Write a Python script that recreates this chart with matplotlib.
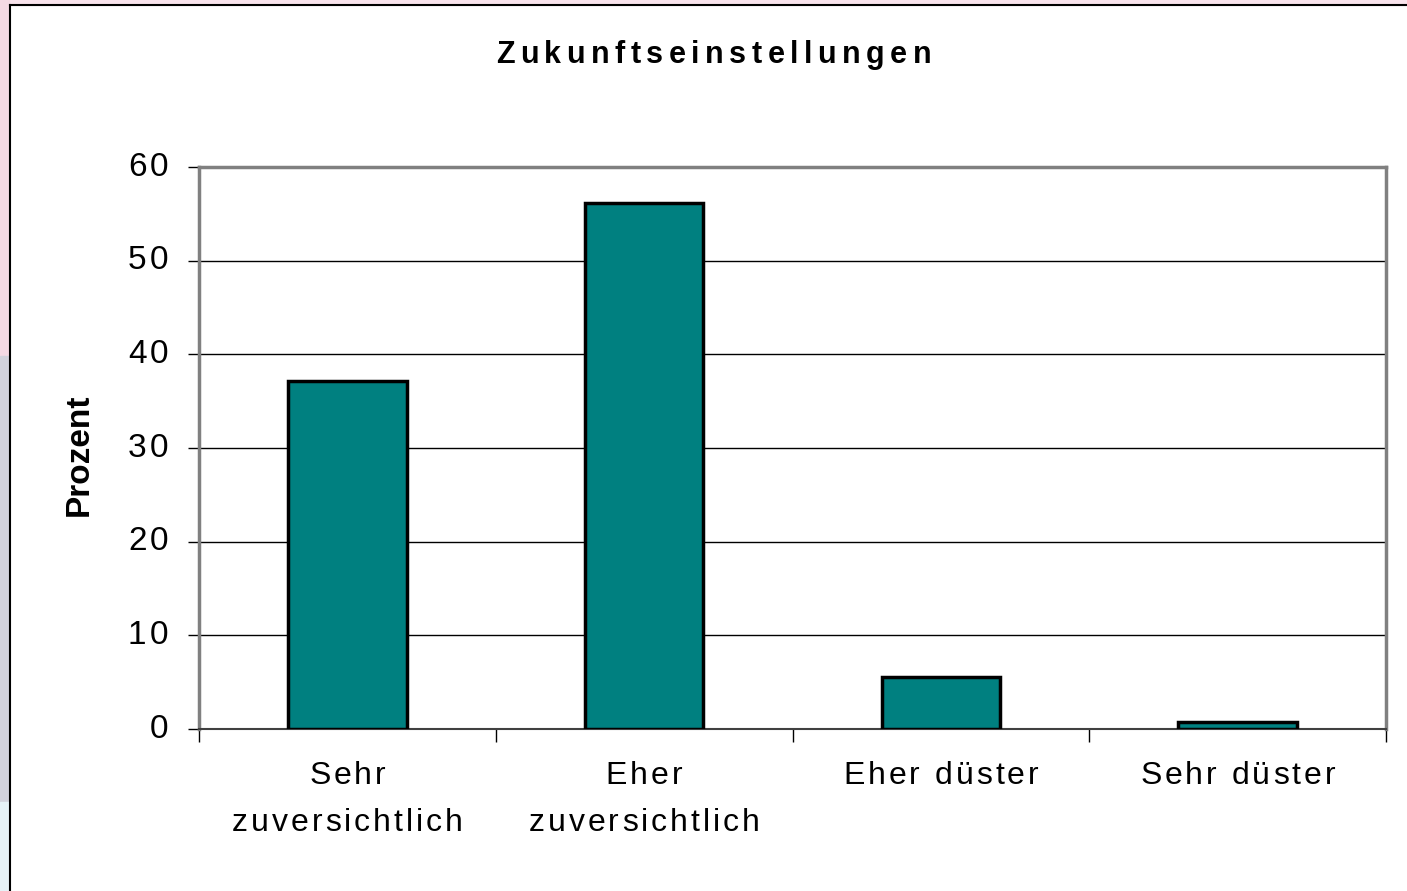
import matplotlib.pyplot as plt
from matplotlib.lines import Line2D
from matplotlib.font_manager import FontProperties
from matplotlib.patches import Rectangle

# data
categories = ["Sehr\nzuversichtlich", "Eher\nzuversichtlich", "Eher düster", "Sehr düster"]
prozent = [37.2, 56.2, 5.6, 0.7]
yticks = [0, 10, 20, 30, 40, 50, 60]

plt.rcParams["font.family"] = ["Liberation Sans", "DejaVu Sans"]

W, H = 1407, 891
fig = plt.figure(figsize=(W / 100, H / 100), dpi=100)
fig.patch.set_facecolor("white")
renderer = fig.canvas.get_renderer()


def spaced_text(xpx, ypx, s, size, weight="normal", track=3.0, ha="center"):
    # draw a string at (xpx, ypx) with extra letter spacing (pixels)
    prop = FontProperties(family="Liberation Sans", size=size, weight=weight)
    widths = [renderer.get_text_width_height_descent(c, prop, ismath=False)[0] for c in s]
    total = sum(widths) + track * (len(s) - 1)
    x0 = xpx - total / 2 if ha == "center" else xpx - total
    for c, w in zip(s, widths):
        fig.text(x0 / W, 1 - ypx / H, c, fontproperties=prop, ha="left", va="center")
        x0 += w + track


# plot area in pixels: x 199..1386, y 167..729
ax = fig.add_axes((199 / W, 1 - 729 / H, (1386 - 199) / W, (729 - 167) / H))

x = list(range(len(categories)))
ax.bar(x, prozent, width=0.4, color="#008080", edgecolor="black", linewidth=2.5, zorder=3)

ax.set_xlim(-0.5, len(categories) - 0.5)
ax.set_ylim(0, 60)
ax.set_yticks(yticks)
ax.set_yticklabels([])
ax.yaxis.grid(True, color="black", linewidth=1)
ax.set_axisbelow(True)

ax.set_xticks([i - 0.5 for i in range(len(categories) + 1)])
ax.set_xticklabels([])
ax.tick_params(axis="x", length=9, width=1, color="black")
ax.tick_params(axis="y", length=8, width=1, color="black")

for side in ["left", "top", "right"]:
    ax.spines[side].set_color("#808080")
    ax.spines[side].set_linewidth(2.5)
ax.spines["bottom"].set_color("#404040")
ax.spines["bottom"].set_linewidth(1.5)

# y tick labels, slightly spaced like the original
for v in yticks:
    ypx = H - ax.transData.transform((0, v))[1]
    spaced_text(168, ypx, str(v), 24, track=3.0, ha="right")

# category labels with the wide letter spacing of the original
for i, lab in enumerate(categories):
    xpx = ax.transData.transform((i, 0))[0]
    for j, line in enumerate(lab.split("\n")):
        spaced_text(xpx, 776 + j * 47, line, 23, track=3.0)

spaced_text(W / 2 + 10, 55, "Zukunftseinstellungen", 22, weight="bold", track=5.5)
fig.text(79 / W, 1 - 455 / H, "Prozent", rotation=90, ha="center", va="center",
         fontsize=24, fontweight="bold")

# background showing outside the chart frame
fig.add_artist(Rectangle((0, 1 - 5 / H), 1, 5 / H, color="#f9e3ec",
                         transform=fig.transFigure, zorder=0))
fig.add_artist(Rectangle((0, 0.6), 9 / W, 0.4, color="#f5d9e4",
                         transform=fig.transFigure, zorder=0))
fig.add_artist(Rectangle((0, 0.1), 9 / W, 0.5, color="#d2d2dc",
                         transform=fig.transFigure, zorder=0))
fig.add_artist(Rectangle((0, 0), 9 / W, 0.1, color="#e6f2f7",
                         transform=fig.transFigure, zorder=0))

# outer chart frame (left and top edge visible)
fig.add_artist(Line2D([9.5 / W, 9.5 / W], [0, 1 - 5 / H], color="black", linewidth=1.5,
                      transform=fig.transFigure))
fig.add_artist(Line2D([9.5 / W, 1], [1 - 5 / H, 1 - 5 / H], color="black", linewidth=1.5,
                      transform=fig.transFigure))

fig.savefig("out.png", dpi=100)
